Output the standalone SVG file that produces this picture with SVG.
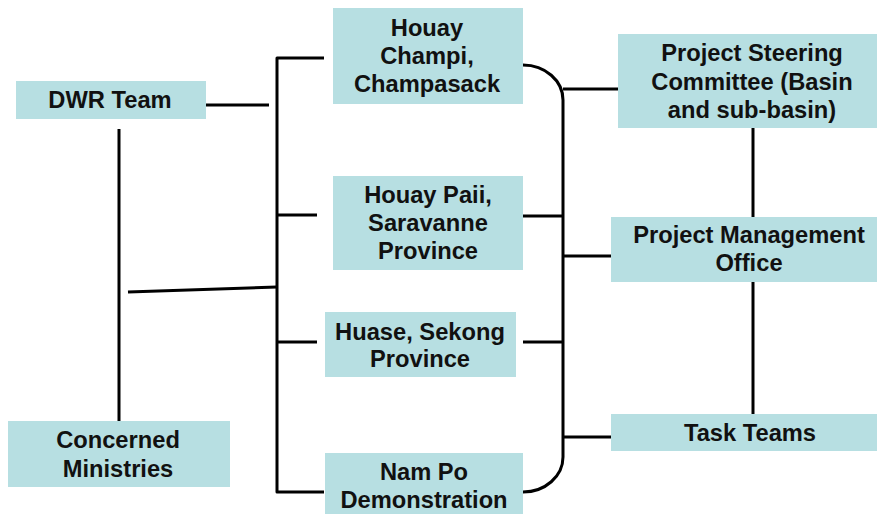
<svg xmlns="http://www.w3.org/2000/svg" width="877" height="514" viewBox="0 0 877 514">
<style>
.box{fill:#b7dfe2;stroke:none}
.t{font-family:"Liberation Sans",Arial,sans-serif;font-weight:bold;font-size:23.7px;fill:#111;text-anchor:middle}
.c{fill:none;stroke:#000;stroke-width:3;stroke-linecap:butt;stroke-linejoin:round}
</style>
<rect width="877" height="514" fill="#fff"/>
<g id="connectors">
<line class="c" x1="206" y1="105" x2="269" y2="105"/>
<line class="c" x1="119" y1="129" x2="119" y2="421"/>
<line class="c" x1="128" y1="292" x2="277" y2="287"/>
<path class="c" d="M324,58 L277,58 L277,492 L324,492"/>
<line class="c" x1="277" y1="215" x2="317" y2="215"/>
<line class="c" x1="277" y1="342" x2="317" y2="342"/>
<path class="c" d="M523,65 A40,35 0 0 1 563,100 L563,457 A40,35 0 0 1 523,492"/>
<line class="c" x1="523" y1="216" x2="563" y2="216"/>
<line class="c" x1="523" y1="342" x2="563" y2="342"/>
<line class="c" x1="563" y1="89" x2="618" y2="89"/>
<line class="c" x1="563" y1="256" x2="611" y2="256"/>
<line class="c" x1="563" y1="437" x2="611" y2="437"/>
<line class="c" x1="753" y1="128" x2="753" y2="217"/>
<line class="c" x1="753" y1="282" x2="753" y2="414"/>
</g>
<g id="dwr-team">
<rect class="box" x="16" y="81" width="190" height="38"/>
<text class="t" x="110" y="108">DWR Team</text>
</g>
<g id="concerned-ministries">
<rect class="box" x="8" y="421" width="222" height="66"/>
<text class="t" x="118" y="448">Concerned</text>
<text class="t" x="118" y="477">Ministries</text>
</g>
<g id="houay-champi">
<rect class="box" x="333" y="8" width="190" height="96"/>
<text class="t" x="427" y="36">Houay</text>
<text class="t" x="427" y="64">Champi,</text>
<text class="t" x="427" y="92">Champasack</text>
</g>
<g id="houay-paii">
<rect class="box" x="333" y="176" width="190" height="94"/>
<text class="t" x="428" y="203">Houay Paii,</text>
<text class="t" x="428" y="231">Saravanne</text>
<text class="t" x="428" y="259">Province</text>
</g>
<g id="huase">
<rect class="box" x="325" y="312" width="191" height="65"/>
<text class="t" x="420" y="340">Huase, Sekong</text>
<text class="t" x="420" y="367">Province</text>
</g>
<g id="nam-po">
<rect class="box" x="325" y="453" width="198" height="61"/>
<text class="t" x="424" y="480">Nam Po</text>
<text class="t" x="424" y="508">Demonstration</text>
</g>
<g id="project-steering-committee">
<rect class="box" x="618" y="34" width="259" height="94"/>
<text class="t" x="752" y="61">Project Steering</text>
<text class="t" x="752" y="90">Committee (Basin</text>
<text class="t" x="752" y="118">and sub-basin)</text>
</g>
<g id="project-management-office">
<rect class="box" x="611" y="217" width="266" height="65"/>
<text class="t" x="749" y="243">Project Management</text>
<text class="t" x="749" y="271">Office</text>
</g>
<g id="task-teams">
<rect class="box" x="611" y="414" width="266" height="37"/>
<text class="t" x="750" y="441">Task Teams</text>
</g>
</svg>
